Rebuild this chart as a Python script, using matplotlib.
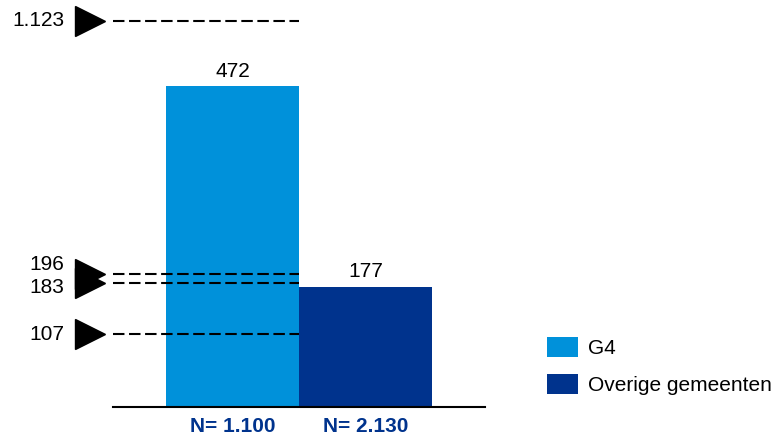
import matplotlib.pyplot as plt

plt.rcParams['font.family'] = ['Liberation Sans', 'DejaVu Sans']

# data
groups = ["G4", "Overige gemeenten"]
values = [472, 177]
n_labels = ["N= 1.100", "N= 2.130"]
ref_values = [1123, 196, 183, 107]
ref_labels = ["1.123", "196", "183", "107"]

colors = ["#0091DA", "#00338D"]
Y_TOP = 584
REF_CAP = 568          # values above the axis are pinned near the top
label_nudge = [0, 6.5, -3.5, 0]   # points, to keep close labels apart
FS = 15


def main():
    fig = plt.figure(figsize=(7.77, 4.38), dpi=100)
    ax = fig.add_axes([113 / 777, 31 / 438, 372 / 777, 397 / 438])

    x = list(range(len(groups)))
    bars = ax.bar(x, values, width=1.0, color=colors, label=groups, zorder=2)

    for b, v in zip(bars, values):
        ax.annotate(str(v), (b.get_x() + b.get_width() / 2, v),
                    xytext=(0, 4), textcoords="offset points",
                    ha="center", va="bottom", fontsize=FS)

    ax.set_xlim(-0.898, 1.898)
    ax.set_ylim(0, Y_TOP)

    # reference markers with dashed lines
    x_left = ax.get_xlim()[0]
    for v, lab, nudge in zip(ref_values, ref_labels, label_nudge):
        y = min(v, REF_CAP)
        ax.hlines(y, x_left, 0.5, colors="black", linestyles=(0, (5.5, 2.2)),
                  linewidth=1.5, zorder=3, clip_on=False)
        ax.plot([-1.07], [y], marker=">", markersize=21, color="black",
                clip_on=False, zorder=3)
        ax.annotate(lab, (-1.262, y), xytext=(0, nudge), textcoords="offset points",
                    ha="right", va="center", fontsize=FS, annotation_clip=False)

    ax.set_xticks(x)
    ax.set_xticklabels(n_labels, fontsize=FS, fontweight="bold", color="#00338D")
    ax.tick_params(axis="x", length=0, pad=7)
    ax.set_yticks([])
    for side in ["top", "right", "left"]:
        ax.spines[side].set_visible(False)
    ax.spines["bottom"].set_linewidth(1.5)

    fig.legend(handles=bars, labels=groups, loc="upper left",
               bbox_to_anchor=(547 / 777, 1 - 337 / 438), frameon=False,
               fontsize=FS, handlelength=1.49, handleheight=1.1,
               handletextpad=0.5, labelspacing=0.78, borderpad=0,
               borderaxespad=0)

    fig.savefig("out.png", dpi=100)


if __name__ == "__main__":
    main()
